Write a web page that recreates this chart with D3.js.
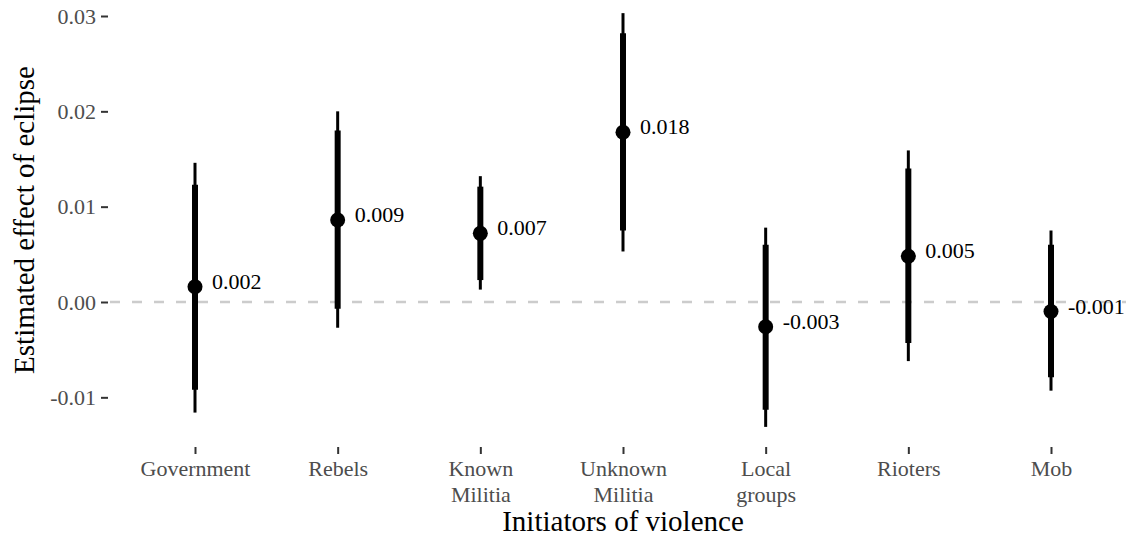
<!DOCTYPE html>
<html>
<head>
<meta charset="utf-8">
<script src="https://cdn.jsdelivr.net/npm/d3@7"></script>
<style>
  body { margin: 0; background: #fff; }
  svg { display: block; font-family: "Liberation Serif", "Times New Roman", serif; }
</style>
</head>
<body>
<script>
  // data
  var categories = ["Government", "Rebels", "Known\nMilitia", "Unknown\nMilitia", "Local\ngroups", "Rioters", "Mob"];
  var estimates  = [0.0016, 0.0086, 0.0072, 0.0178, -0.0026, 0.0048, -0.0010];
  var innerLow   = [-0.0092, -0.0007, 0.0023, 0.0075, -0.0113, -0.0043, -0.0079];
  var innerHigh  = [0.0123, 0.0180, 0.0121, 0.0282, 0.0060, 0.0140, 0.0060];
  var outerLow   = [-0.0116, -0.0027, 0.0013, 0.0053, -0.0131, -0.0062, -0.0093];
  var outerHigh  = [0.0146, 0.0200, 0.0132, 0.0303, 0.0078, 0.0159, 0.0075];
  var yTicks     = [-0.01, 0, 0.01, 0.02, 0.03];

  var width = 1133, height = 539;

  var svg = d3.select("body").append("svg")
    .attr("width", width)
    .attr("height", height);

  // plain hyphen minus, like the original
  var loc = d3.formatLocale({decimal: ".", thousands: ",", grouping: [3], currency: ["$", ""], minus: "-"});
  var fmtTick = loc.format(".2f"),
      fmtLab = loc.format(".3f");

  var x = d3.scalePoint().domain(categories).range([195, 1051]);
  var y = d3.scaleLinear().domain([-0.015, 0.03]).range([445, 16]);

  var rows = categories.map(function(c, i) {
    return {cat: c, est: estimates[i], lo: innerLow[i], hi: innerHigh[i], lo2: outerLow[i], hi2: outerHigh[i]};
  });

  // zero reference line
  svg.append("line")
    .attr("x1", 110).attr("x2", 1126)
    .attr("y1", y(0)).attr("y2", y(0))
    .attr("stroke", "#cccccc")
    .attr("stroke-width", 2.5)
    .attr("stroke-dasharray", "10,12");

  // y axis
  var yAxis = svg.append("g")
    .attr("transform", "translate(108,0)")
    .call(d3.axisLeft(y).tickValues(yTicks).tickFormat(fmtTick).tickSize(7).tickPadding(5));
  yAxis.select(".domain").remove();
  yAxis.selectAll(".tick line").attr("stroke", "#333").attr("stroke-width", 2);
  yAxis.selectAll(".tick text")
    .attr("fill", "#4d4d4d")
    .style("font-size", "22px")
    .style("font-family", "Liberation Serif, serif");

  // x axis
  var xAxis = svg.append("g")
    .attr("transform", "translate(0,447)")
    .call(d3.axisBottom(x).tickSize(7).tickFormat(""));
  xAxis.select(".domain").remove();
  xAxis.selectAll(".tick line").attr("stroke", "#333").attr("stroke-width", 2);

  xAxis.selectAll(".tick").each(function(d) {
    var t = d3.select(this).append("text")
      .attr("fill", "#4d4d4d")
      .attr("text-anchor", "middle")
      .style("font-size", "22px")
      .style("font-family", "Liberation Serif, serif");
    d.split("\n").forEach(function(line, k) {
      t.append("tspan").attr("x", 0).attr("y", 29 + k * 26).text(line);
    });
  });

  // thin outer intervals
  svg.selectAll(".outer").data(rows).enter()
    .append("line")
    .attr("class", "outer")
    .attr("x1", function(d) { return x(d.cat); })
    .attr("x2", function(d) { return x(d.cat); })
    .attr("y1", function(d) { return y(d.lo2); })
    .attr("y2", function(d) { return y(d.hi2); })
    .attr("stroke", "black")
    .attr("stroke-width", 3);

  // thick inner intervals
  svg.selectAll(".inner").data(rows).enter()
    .append("line")
    .attr("class", "inner")
    .attr("x1", function(d) { return x(d.cat); })
    .attr("x2", function(d) { return x(d.cat); })
    .attr("y1", function(d) { return y(d.lo); })
    .attr("y2", function(d) { return y(d.hi); })
    .attr("stroke", "black")
    .attr("stroke-width", 6);

  svg.selectAll(".pt").data(rows).enter()
    .append("circle")
    .attr("class", "pt")
    .attr("cx", function(d) { return x(d.cat); })
    .attr("cy", function(d) { return y(d.est); })
    .attr("r", 7.5)
    .attr("fill", "black");

  svg.selectAll(".lab").data(rows).enter()
    .append("text")
    .attr("class", "lab")
    .attr("x", function(d) { return x(d.cat) + 17; })
    .attr("y", function(d) { return y(d.est) + 2; })
    .style("font-size", "22px")
    .attr("fill", "black")
    .text(function(d) { return fmtLab(d.est); });

  // axis titles
  svg.append("text")
    .attr("x", 623).attr("y", 531)
    .attr("text-anchor", "middle")
    .style("font-size", "29px")
    .text("Initiators of violence");

  svg.append("text")
    .attr("transform", "translate(34,220) rotate(-90)")
    .attr("text-anchor", "middle")
    .style("font-size", "29px")
    .text("Estimated effect of eclipse");
</script>
</body>
</html>
